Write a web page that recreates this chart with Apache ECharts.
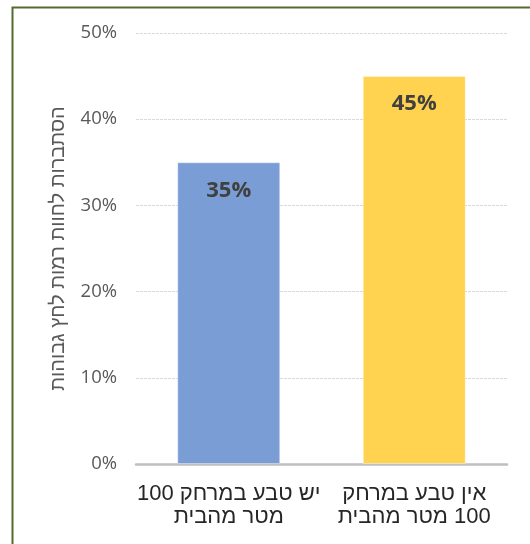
<!DOCTYPE html>
<html>
<head>
<meta charset="utf-8">
<script src="https://cdn.jsdelivr.net/npm/echarts@6/dist/echarts.min.js"></script>
<style>
  html, body { margin: 0; padding: 0; background: #ffffff; }
  /* Hebrew labels: the canvas inherits right-to-left text direction */
  #chart { width: 530px; height: 544px; direction: rtl; }
</style>
</head>
<body>
<div id="chart" dir="rtl"></div>
<script>
// Probability of high stress levels, by access to nature within 100 m of home
const categories = ['יש טבע במרחק 100\nמטר מהבית', 'אין טבע במרחק\n100 מטר מהבית'];
const probabilityPct = [35, 45];
const barColors = ['#7b9dd6', '#ffd24f'];
const yTicks = { min: 0, max: 50, interval: 10 };
const yAxisTitle = 'הסתברות לחוות רמות לחץ גבוהות';

const chart = echarts.init(document.getElementById('chart'), null, { renderer: 'canvas' });

chart.setOption({
  backgroundColor: '#ffffff',
  animation: false,
  graphic: [{
    type: 'rect',
    left: 10, top: 5,
    shape: { x: 0, y: 0, width: 540, height: 560 },
    style: { fill: 'none', stroke: '#526b2f', lineWidth: 2 },
    z: 100
  }],
  grid: { left: 136, right: 23, top: 33, bottom: 80, containLabel: false },
  xAxis: {
    type: 'category',
    data: categories,
    axisLine: { show: true, lineStyle: { color: '#bfbfbf', width: 2.5 } },
    axisTick: { show: false },
    axisLabel: {
      color: '#262626',
      fontFamily: 'Liberation Sans, Arial, sans-serif',
      fontSize: 22,
      lineHeight: 23,
      margin: 18,
      interval: 0
    }
  },
  yAxis: {
    type: 'value',
    min: yTicks.min,
    max: yTicks.max,
    interval: yTicks.interval,
    name: yAxisTitle,
    nameLocation: 'middle',
    nameGap: 68,
    nameTextStyle: {
      color: '#595959',
      fontFamily: 'Liberation Sans, Arial, sans-serif',
      fontSize: 20
    },
    axisLine: { show: false },
    axisTick: { show: false },
    axisLabel: {
      formatter: '{value}%',
      color: '#595959',
      fontFamily: 'Open Sans, sans-serif',
      fontSize: 18.5,
      margin: 19
    },
    splitLine: { lineStyle: { color: '#d9d9d9', width: 1, type: [3, 1] } }
  },
  series: [{
    type: 'bar',
    data: probabilityPct.map((v, i) => ({ value: v, itemStyle: { color: barColors[i] } })),
    barWidth: '55.5%',
    itemStyle: { borderColor: 'rgba(255,255,255,0.35)', borderWidth: 1 },
    label: {
      show: true,
      position: 'insideTop',
      distance: 17,
      formatter: '{c}%',
      color: '#404040',
      fontFamily: 'Open Sans, sans-serif',
      fontWeight: 'bold',
      fontSize: 22
    },
    z: 3
  }]
});
</script>
</body>
</html>
